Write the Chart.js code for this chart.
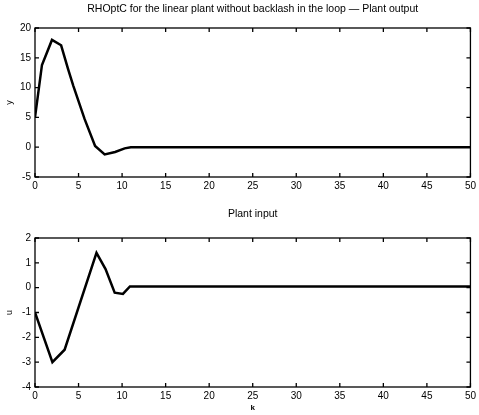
<!DOCTYPE html>
<html><head><meta charset="utf-8">
<script src="https://cdn.jsdelivr.net/npm/chart.js@4.4.1/dist/chart.umd.min.js"></script>
<style>
body{margin:0;background:#fff;width:479px;height:415px;overflow:hidden;position:relative}
canvas{position:absolute;left:0}
</style></head><body>
<canvas id="c1" width="479" height="205" style="top:0"></canvas>
<canvas id="c2" width="479" height="210" style="top:205px"></canvas>
<script>
// ---- data ----
const kOut = [0, 0.8, 1.95, 3.0, 3.8, 4.4, 5.7, 6.9, 8.0, 9.2, 10.3, 11, 50];
const yOut = [5, 13.8, 18, 17.1, 13.1, 10.3, 4.7, 0.2, -1.2, -0.8, -0.2, 0, 0];
const kIn  = [0, 2.0, 3.4, 7.06, 8.1, 9.15, 10.1, 10.9, 50];
const uIn  = [-1, -3.0, -2.5, 1.4, 0.75, -0.2, -0.25, 0.05, 0.05];
const xTicks = [0, 5, 10, 15, 20, 25, 30, 35, 40, 45, 50];
const yTicksTop = [-5, 0, 5, 10, 15, 20];
const yTicksBottom = [-4, -3, -2, -1, 0, 1, 2];
const titleTop = 'RHOptC for the linear plant without backlash in the loop \u2014 Plant output';
const titleBottom = 'Plant input';

const FF = '"Liberation Sans", Arial, sans-serif';

const boxTicks = {
  id: 'boxTicks',
  afterDatasetsDraw(chart, args, opts) {
    const {ctx, chartArea: a, scales: {x, y}} = chart;
    ctx.save();
    ctx.strokeStyle = '#000';
    ctx.lineWidth = 1.3;
    ctx.strokeRect(a.left, a.top, a.right - a.left, a.bottom - a.top);
    const L = 4;
    ctx.beginPath();
    x.ticks.forEach(t => {
      const p = x.getPixelForValue(t.value);
      ctx.moveTo(p, a.bottom); ctx.lineTo(p, a.bottom - L);
      ctx.moveTo(p, a.top); ctx.lineTo(p, a.top + L);
    });
    y.ticks.forEach(t => {
      const p = y.getPixelForValue(t.value);
      ctx.moveTo(a.left, p); ctx.lineTo(a.left + L, p);
      ctx.moveTo(a.right, p); ctx.lineTo(a.right - L, p);
    });
    ctx.stroke();
    // axes title centred over the plot box
    ctx.fillStyle = '#000';
    ctx.font = '10.5px ' + FF;
    ctx.textAlign = 'center';
    ctx.textBaseline = 'middle';
    ctx.fillText(opts.text, (a.left + a.right) / 2, opts.y);
    ctx.restore();
  }
};

function makeChart(id, ks, vs, ymin, ymax, yTickVals, yTitle, title, titleY, topPad, xTitle) {
  return new Chart(document.getElementById(id), {
    type: 'line',
    data: {
      datasets: [{
        data: ks.map((k, i) => ({x: k, y: vs[i]})),
        borderColor: '#000',
        borderWidth: 2.5,
        pointRadius: 0,
        tension: 0,
        fill: false
      }]
    },
    options: {
      responsive: false,
      animation: false,
      layout: {padding: {left: 0, right: 7, top: topPad, bottom: 0}},
      plugins: {
        legend: {display: false},
        tooltip: {enabled: false},
        title: {display: false},
        boxTicks: {text: title, y: titleY}
      },
      scales: {
        x: {
          type: 'linear', min: 0, max: 50,
          afterBuildTicks: s => { s.ticks = xTicks.map(v => ({value: v})); },
          grid: {display: false, drawTicks: false, tickLength: 0},
          border: {display: false},
          ticks: {color: '#000', font: {family: FF, size: 10}, padding: 3, maxRotation: 0, autoSkip: false},
          title: {display: !!xTitle, text: xTitle || '', color: '#000', font: {family: FF, size: 8, weight: 'bold', lineHeight: 1}, padding: {top: 0, bottom: 3}},
          afterFit: s => { s.height = 28; }
        },
        y: {
          type: 'linear', min: ymin, max: ymax,
          afterBuildTicks: s => { s.ticks = yTickVals.map(v => ({value: v})); },
          grid: {display: false, drawTicks: false, tickLength: 0},
          border: {display: false},
          ticks: {color: '#000', font: {family: FF, size: 10}, padding: 4},
          title: {display: true, text: yTitle, color: '#000', font: {family: FF, size: 9, lineHeight: 1}, padding: {top: 5, bottom: 0}},
          afterFit: s => { s.width = 35; }
        }
      }
    },
    plugins: [boxTicks]
  });
}

makeChart('c1', kOut, yOut, -5, 20, yTicksTop, 'y', titleTop, 9, 28, '');
makeChart('c2', kIn, uIn, -4, 2, yTicksBottom, 'u', titleBottom, 9, 33, 'k');
</script>
</body></html>
